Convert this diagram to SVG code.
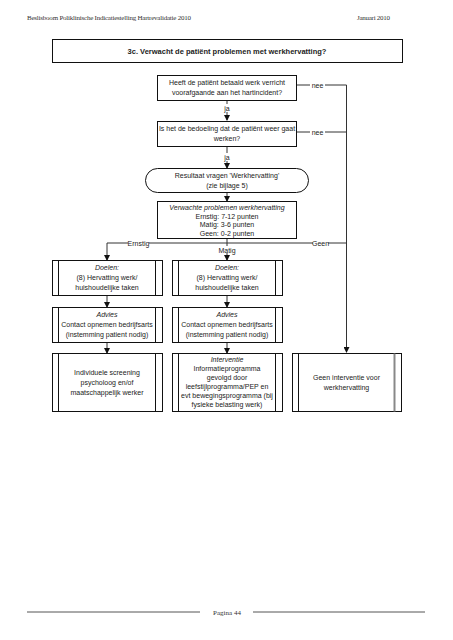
<svg xmlns="http://www.w3.org/2000/svg" width="453" height="640" viewBox="0 0 453 640">
<style>
.t{font-family:"Liberation Sans",Arial,sans-serif;font-size:7px;fill:#222;text-anchor:middle}
.i{font-style:italic}
.b{fill:#fff;stroke:#111;stroke-width:1}
.c{fill:none;stroke:#333;stroke-width:1}
.h{font-family:"Liberation Serif","DejaVu Serif",serif;font-size:7px;fill:#333}
</style>
<defs>
<marker id="a" markerWidth="6" markerHeight="6" refX="5" refY="3" orient="auto" markerUnits="userSpaceOnUse">
<path d="M0,0 L6,3 L0,6 z" fill="#111"/>
</marker>
</defs>
<rect width="453" height="640" fill="#fff"/>
<text class="h" x="27" y="20" textLength="164">Beslisboom Poliklinische Indicatiestelling Hartrevalidatie 2010</text>
<text class="h" x="357" y="20" textLength="33">Januari 2010</text>

<g id="title">
<rect class="b" x="52.5" y="39.5" width="350" height="23"/>
<text class="t" x="227" y="53.5" style="font-weight:bold;font-size:7.5px">3c. Verwacht de patiënt problemen met werkhervatting?</text>
</g>

<g id="connectors">
<path class="c" d="M297,85 H310 M325,85 H346.5 V352" marker-end="url(#a)"/>
<path class="c" d="M297,132 H310 M325,132 H346.5"/>
<path class="c" d="M227,101 V104 M227,112 V120" marker-end="url(#a)"/>
<path class="c" d="M227,147 V153 M227,161 V168" marker-end="url(#a)"/>
<path class="c" d="M227,193 V201" marker-end="url(#a)"/>
<path class="c" d="M227,239 V246 M227,253 V260" marker-end="url(#a)"/>
<path class="c" d="M128,243 H107 V260" marker-end="url(#a)"/>
<path class="c" d="M149,243 H313 M328,243 H346.5"/>
<path class="c" d="M107,296 V307" marker-end="url(#a)"/>
<path class="c" d="M227,296 V307" marker-end="url(#a)"/>
<path class="c" d="M107,343 V353" marker-end="url(#a)"/>
<path class="c" d="M227,343 V353" marker-end="url(#a)"/>
<text class="t" x="317.5" y="87.5">nee</text>
<text class="t" x="317.5" y="134.5">nee</text>
<text class="t" x="227" y="110.5">ja</text>
<text class="t" x="227" y="159.5">ja</text>
<text class="t" x="138.5" y="245.5">Ernstig</text>
<text class="t" x="320.5" y="245.5">Geen</text>
<text class="t" x="227" y="252.5">Matig</text>
</g>

<g id="q1">
<rect class="b" x="157.5" y="75.5" width="139" height="25"/>
<text class="t" x="227" y="85">Heeft de patiënt betaald werk verricht</text>
<text class="t" x="227" y="95">voorafgaande aan het hartincident?</text>
</g>
<g id="q2">
<rect class="b" x="157.5" y="121.5" width="139" height="25"/>
<text class="t" x="227" y="131">Is het de bedoeling dat de patiënt weer gaat</text>
<text class="t" x="227" y="141">werken?</text>
</g>
<g id="result">
<rect class="b" x="145.5" y="168.5" width="163" height="24" rx="12" ry="12"/>
<text class="t" x="227" y="178">Resultaat vragen 'Werkhervatting'</text>
<text class="t" x="227" y="188">(zie bijlage 5)</text>
</g>
<g id="expected">
<rect class="b" x="157.5" y="201.5" width="139" height="37"/>
<text class="t i" x="227" y="209.5">Verwachte problemen werkhervatting</text>
<text class="t" x="227" y="218.5">Ernstig: 7-12 punten</text>
<text class="t" x="227" y="227">Matig: 3-6 punten</text>
<text class="t" x="227" y="235.5">Geen: 0-2 punten</text>
</g>

<g id="doelen1">
<rect class="b" x="52.5" y="260.5" width="110" height="35"/>
<path class="c" d="M58.5,260.5 V295.5 M155.5,260.5 V295.5" style="stroke:#111"/>
<text class="t i" x="107" y="270">Doelen:</text>
<text class="t" x="107" y="280">(8) Hervatting werk/</text>
<text class="t" x="107" y="290">huishoudelijke taken</text>
</g>
<g id="doelen2">
<rect class="b" x="172.5" y="260.5" width="110" height="35"/>
<path class="c" d="M178.5,260.5 V295.5 M275.5,260.5 V295.5" style="stroke:#111"/>
<text class="t i" x="227" y="270">Doelen:</text>
<text class="t" x="227" y="280">(8) Hervatting werk/</text>
<text class="t" x="227" y="290">huishoudelijke taken</text>
</g>
<g id="advies1">
<rect class="b" x="52.5" y="307.5" width="110" height="35"/>
<path class="c" d="M58.5,307.5 V342.5 M155.5,307.5 V342.5" style="stroke:#111"/>
<text class="t i" x="107" y="317">Advies</text>
<text class="t" x="107" y="327">Contact opnemen bedrijfsarts</text>
<text class="t" x="107" y="337">(instemming patient nodig)</text>
</g>
<g id="advies2">
<rect class="b" x="172.5" y="307.5" width="110" height="35"/>
<path class="c" d="M178.5,307.5 V342.5 M275.5,307.5 V342.5" style="stroke:#111"/>
<text class="t i" x="227" y="317">Advies</text>
<text class="t" x="227" y="327">Contact opnemen bedrijfsarts</text>
<text class="t" x="227" y="337">(instemming patient nodig)</text>
</g>
<g id="screening">
<rect class="b" x="52.5" y="353.5" width="110" height="58"/>
<path class="c" d="M58.5,353.5 V411.5 M155.5,353.5 V411.5" style="stroke:#111"/>
<text class="t" x="107" y="375">Individuele screening</text>
<text class="t" x="107" y="385">psycholoog en/of</text>
<text class="t" x="107" y="395">maatschappelijk werker</text>
</g>
<g id="interventie">
<rect class="b" x="172.5" y="353.5" width="110" height="58"/>
<path class="c" d="M178.5,353.5 V411.5 M275.5,353.5 V411.5" style="stroke:#111"/>
<text class="t i" x="227" y="362">Interventie</text>
<text class="t" x="227" y="371">Informatieprogramma</text>
<text class="t" x="227" y="380">gevolgd door</text>
<text class="t" x="227" y="389">leefstijlprogramma/PEP en</text>
<text class="t" x="227" y="398">evt bewegingsprogramma (bij</text>
<text class="t" x="227" y="407">fysieke belasting werk)</text>
</g>
<g id="geen">
<rect class="b" x="292.5" y="353.5" width="109" height="58"/>
<path class="c" d="M298.5,353.5 V411.5" style="stroke:#111"/>
<path d="M394.5,353.5 V411.5" stroke="#888" stroke-width="2"/>
<text class="t" x="346.5" y="380">Geen interventie voor</text>
<text class="t" x="346.5" y="390">werkhervatting</text>
</g>

<path d="M27,612 H200 M253,612 H425" stroke="#555" stroke-width="1"/>
<text class="h" x="227" y="614.5" text-anchor="middle">Pagina 44</text>
</svg>
